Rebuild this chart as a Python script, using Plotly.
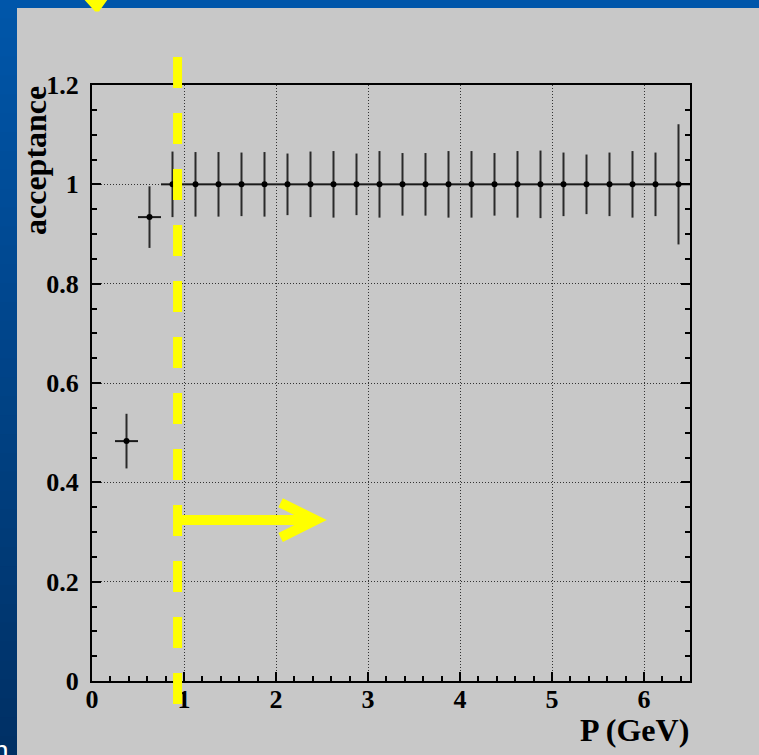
import plotly.graph_objects as go

# ---- data: acceptance vs. momentum, 0.25 GeV bins ----
p_bin_centre = [0.375, 0.625, 0.875, 1.125, 1.375, 1.625, 1.875, 2.125, 2.375,
                2.625, 2.875, 3.125, 3.375, 3.625, 3.875, 4.125, 4.375, 4.625,
                4.875, 5.125, 5.375, 5.625, 5.875, 6.125, 6.375]
acceptance = [0.483, 0.934, 1.0, 1.0, 1.0, 1.0, 1.0, 1.0, 1.0,
              1.0, 1.0, 1.0, 1.0, 1.0, 1.0, 1.0, 1.0, 1.0,
              1.0, 1.0, 1.0, 1.0, 1.0, 1.0, 1.0]
acceptance_err = [0.055, 0.062, 0.066, 0.065, 0.065, 0.064, 0.065, 0.062, 0.066,
                  0.067, 0.062, 0.067, 0.063, 0.063, 0.067, 0.067, 0.063, 0.067,
                  0.068, 0.064, 0.060, 0.064, 0.067, 0.064, 0.121]
bin_half_width = [0.125] * len(p_bin_centre)

# momentum cut and arrow height
p_cut = 0.93
arrow_y = 0.324
arrow_tip = 2.43

x_tick_labels = ["0", "1", "2", "3", "4", "5", "6"]

# ---- page geometry ----
W, H = 759, 755
L, R, T, B = 92, 69, 85, 74
PW, PH = W - L - R, H - T - B


def px(x):
    return (x - L) / PW


def py(y):
    return (H - B - y) / PH


GRAY = "#C8C8C8"
YELLOW = "#FFFF00"
SERIF = "Liberation Serif"

fig = go.Figure()

fig.add_trace(go.Scatter(
    x=p_bin_centre, y=acceptance,
    mode="markers",
    marker=dict(color="black", size=6),
    error_x=dict(type="data", array=bin_half_width, width=0,
                 thickness=2, color="#1a1a1a"),
    error_y=dict(type="data", array=acceptance_err, width=0,
                 thickness=2, color="#2a2a2a"),
    showlegend=False,
))

shapes = []

# slide background: blue gradient strip on the left and a band at the top
n_seg = 40
top_rgb = (0, 86, 170)
bot_rgb = (0, 48, 100)
for i in range(n_seg):
    f = (i + 0.5) / n_seg
    c = tuple(round(a + (b - a) * f) for a, b in zip(top_rgb, bot_rgb))
    shapes.append(dict(
        type="rect", xref="paper", yref="paper",
        x0=px(0), x1=px(17),
        y0=py(i * H / n_seg), y1=py((i + 1) * H / n_seg + 3),
        line=dict(width=0), fillcolor="rgb(%d,%d,%d)" % c, layer="above"))
shapes.append(dict(
    type="rect", xref="paper", yref="paper",
    x0=px(0), x1=px(W), y0=py(0), y1=py(8),
    line=dict(width=0), fillcolor="rgb(0,86,170)", layer="above"))

# tip of a yellow arrow coming down from above the panel
shapes.append(dict(
    type="path", xref="paper", yref="paper",
    path="M %f,%f L %f,%f L %f,%f L %f,%f Z" % (
        px(86), py(0), px(106), py(0), px(98.5), py(10.5), px(95.5), py(10.5)),
    fillcolor=YELLOW, line=dict(color=YELLOW, width=2), layer="above"))

# momentum cut: dashed yellow line
shapes.append(dict(
    type="line", xref="x", yref="paper",
    x0=p_cut, x1=p_cut, y0=py(57), y1=py(704),
    line=dict(color=YELLOW, width=9, dash="31px,25px"), layer="above"))

# arrow pointing to the accepted region
shapes.append(dict(
    type="path", xref="x", yref="y",
    path="M %f,%f L %f,%f M %f,%f L %f,%f L %f,%f" % (
        p_cut, arrow_y, arrow_tip, arrow_y,
        arrow_tip - 0.38, arrow_y + 0.035, arrow_tip, arrow_y,
        arrow_tip - 0.38, arrow_y - 0.035),
    line=dict(color=YELLOW, width=10), layer="above"))

annotations = [
    dict(text="<b>acceptance</b>", xref="paper", yref="paper",
         x=px(35), y=py(161), xanchor="center", yanchor="middle",
         textangle=-90, showarrow=False,
         font=dict(family=SERIF, size=32, color="black")),
    dict(text="<b>P (GeV)</b>", xref="paper", yref="paper",
         x=px(691), y=py(730), xanchor="right", yanchor="middle",
         showarrow=False, font=dict(family=SERIF, size=32, color="black")),
    dict(text="n", xref="paper", yref="paper",
         x=px(11), y=py(733), xanchor="right", yanchor="top",
         showarrow=False, font=dict(family="Liberation Sans", size=28, color="white")),
]

grid_style = dict(showgrid=True, gridcolor="#333333", gridwidth=1, griddash="1px,2px")

fig.update_layout(
    width=W, height=H,
    margin=dict(l=L, r=R, t=T, b=B, pad=0),
    paper_bgcolor=GRAY, plot_bgcolor=GRAY,
    shapes=shapes, annotations=annotations,
    xaxis=dict(
        range=[0, 6.5], tickmode="array", tickvals=list(range(7)),
        ticktext=x_tick_labels,
        ticks="inside", ticklen=9, tickwidth=1.5, tickcolor="black",
        minor=dict(dtick=0.2, tick0=0, ticks="inside", ticklen=5,
                   tickcolor="black", showgrid=False),
        showline=True, linecolor="black", linewidth=2, mirror=True,
        zeroline=False, ticklabelstandoff=-6,
        tickfont=dict(family=SERIF, size=26, color="black", weight="bold"),
        **grid_style),
    yaxis=dict(
        range=[0, 1.2], dtick=0.2, tick0=0,
        ticks="inside", ticklen=9, tickwidth=1.5, tickcolor="black",
        minor=dict(dtick=0.05, tick0=0, ticks="inside", ticklen=5,
                   tickcolor="black", showgrid=False),
        showline=True, linecolor="black", linewidth=2, mirror="ticks",
        zeroline=False, ticklabelstandoff=6,
        tickfont=dict(family=SERIF, size=26, color="black", weight="bold"),
        **grid_style),
)

fig.write_html("out.html")
